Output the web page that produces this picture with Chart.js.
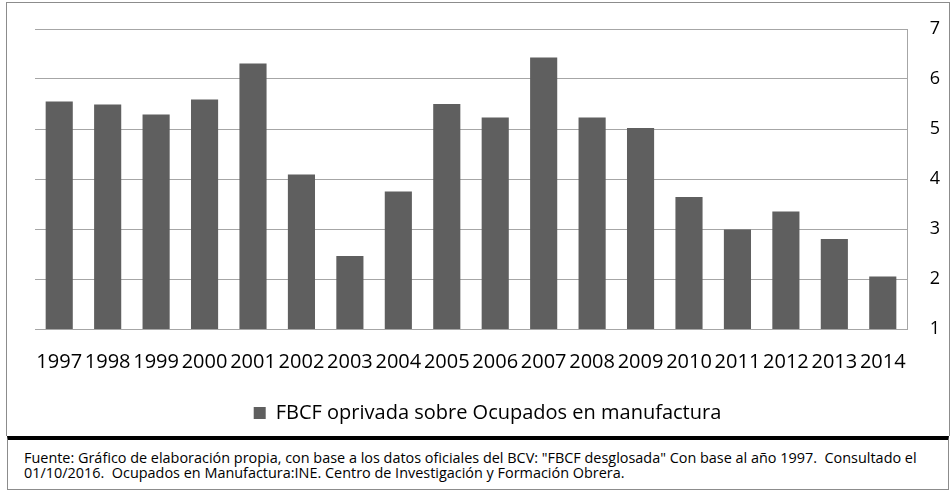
<!DOCTYPE html>
<html>
<head>
<meta charset="utf-8">
<script src="https://cdn.jsdelivr.net/npm/chart.js@4.4.1/dist/chart.umd.min.js"></script>
<style>
  body { margin: 0; background: #fff; width: 951px; height: 491px; overflow: hidden; position: relative; font-family: "Open Sans", sans-serif; }
  #caja { position: absolute; left: 6px; top: 2px; width: 944px; height: 434px; border: 1px solid #8c8c8c; border-bottom: none; box-sizing: border-box; }
  #lienzo { position: absolute; left: 0; top: 0; width: 951px; height: 436px; }
  #fuente { position: absolute; left: 7px; top: 436px; width: 942px; height: 54px; border: 1px solid #8c8c8c; border-top: 4px solid #000; box-sizing: border-box; font-size: 14px; color: #000; }
  #fuente p { margin: 0; position: absolute; left: 16px; white-space: nowrap; line-height: 15px; transform-origin: 0 0; }
</style>
</head>
<body>
<div id="caja"></div>
<div id="lienzo"><canvas id="grafico" width="951" height="436"></canvas></div>
<div id="fuente">
  <p id="linea1" style="top:10px">Fuente: Gráfico de elaboración propia, con base a los datos oficiales del BCV: "FBCF desglosada" Con base al año 1997.&nbsp; Consultado el</p>
  <p id="linea2" style="top:25px">01/10/2016.&nbsp; Ocupados en Manufactura:INE. Centro de Investigación y Formación Obrera.</p>
</div>
<script>
// Datos
var anios = ['1997','1998','1999','2000','2001','2002','2003','2004','2005','2006','2007','2008','2009','2010','2011','2012','2013','2014'];
var fbcfOcupados = [5.55, 5.49, 5.29, 5.59, 6.31, 4.09, 2.46, 3.75, 5.50, 5.23, 6.43, 5.23, 5.02, 3.64, 2.99, 3.35, 2.80, 2.05];
var ticksY = [1, 2, 3, 4, 5, 6, 7];
var nombreSerie = 'FBCF oprivada sobre Ocupados en manufactura';

var gris = '#5f5f5f';
var lineaGris = '#a6a6a6';

new Chart(document.getElementById('grafico'), {
  type: 'bar',
  data: {
    labels: anios,
    datasets: [{
      label: nombreSerie,
      data: fbcfOcupados,
      backgroundColor: gris,
      borderWidth: 0,
      categoryPercentage: 1,
      barPercentage: 0.56
    }]
  },
  options: {
    responsive: false,
    animation: false,
    layout: { padding: { left: 35, right: 11, top: 29, bottom: 3 } },
    plugins: {
      tooltip: { enabled: false },
      legend: {
        position: 'bottom',
        labels: {
          boxWidth: 12,
          boxHeight: 12,
          color: '#000',
          padding: 10,
          font: { family: 'Open Sans', size: 20 }
        }
      }
    },
    scales: {
      x: {
        grid: { display: false },
        border: { display: true, color: lineaGris, width: 1 },
        ticks: {
          color: '#000',
          maxRotation: 0,
          autoSkip: false,
          padding: 13,
          font: { family: 'Open Sans', size: 20 }
        },
        afterFit: function(scale){ scale.height = 64; }
      },
      y: {
        position: 'right',
        min: 1,
        max: 7,
        afterBuildTicks: function(scale){
          scale.ticks = ticksY.map(function(v){ return { value: v }; });
        },
        grid: { color: lineaGris, lineWidth: 1, drawTicks: false },
        border: { display: true, color: lineaGris, width: 1 },
        // etiquetas pegadas al borde derecho; padding chico para no empujar el area
        ticks: {
          color: '#000',
          padding: 0,
          crossAlign: 'far',
          font: { family: 'Open Sans', size: 18 }
        },
        afterFit: function(scale){ scale.width = 33; }
      }
    }
  }
});

// La nota de fuente usa letra condensada en el original: se ajusta al ancho
var l1 = document.getElementById('linea1');
var l2 = document.getElementById('linea2');
var escala = 893 / l1.offsetWidth;
l1.style.transform = 'scaleX(' + escala + ')';
l2.style.transform = 'scaleX(' + escala + ')';
</script>
</body>
</html>
